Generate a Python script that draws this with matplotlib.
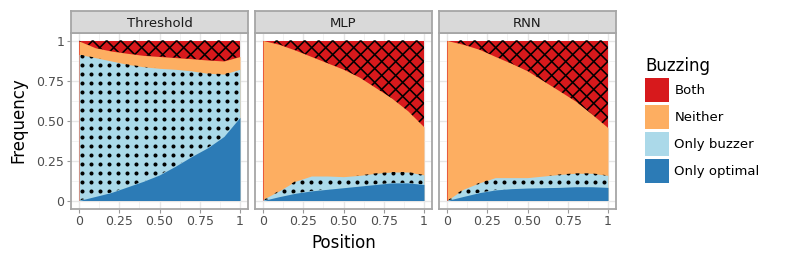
import numpy as np
import matplotlib.pyplot as plt
from matplotlib.patches import Patch
from matplotlib.collections import LineCollection

position = [0.0, 0.1, 0.2, 0.3, 0.4, 0.5, 0.6, 0.7, 0.8, 0.9, 1.0]
models = ['Threshold', 'MLP', 'RNN']
categories = ['Both', 'Neither', 'Only buzzer', 'Only optimal']
colors = {'Both': '#d7191c', 'Neither': '#fdae61',
          'Only buzzer': '#abd9e9', 'Only optimal': '#2c7bb6'}

# frequency of each outcome at each position
threshold_optimal = [0.000, 0.025, 0.050, 0.085, 0.120, 0.160, 0.215, 0.275, 0.330, 0.400, 0.520]
threshold_buzzer = [0.913, 0.868, 0.822, 0.766, 0.716, 0.666, 0.605, 0.535, 0.465, 0.390, 0.300]
threshold_neither = [0.084, 0.062, 0.062, 0.069, 0.071, 0.074, 0.073, 0.076, 0.083, 0.082, 0.080]
threshold_both = [0.003, 0.045, 0.066, 0.080, 0.093, 0.100, 0.107, 0.114, 0.122, 0.128, 0.100]

mlp_optimal = [0.000, 0.024, 0.045, 0.060, 0.070, 0.080, 0.090, 0.100, 0.110, 0.110, 0.100]
mlp_buzzer = [0.007, 0.036, 0.075, 0.093, 0.083, 0.069, 0.067, 0.070, 0.068, 0.068, 0.060]
mlp_neither = [0.993, 0.916, 0.820, 0.747, 0.707, 0.671, 0.613, 0.535, 0.462, 0.382, 0.300]
mlp_both = [0.000, 0.024, 0.060, 0.100, 0.140, 0.180, 0.230, 0.295, 0.360, 0.440, 0.540]

rnn_optimal = [0.000, 0.025, 0.049, 0.066, 0.074, 0.078, 0.080, 0.082, 0.086, 0.086, 0.082]
rnn_buzzer = [0.000, 0.045, 0.061, 0.077, 0.069, 0.065, 0.073, 0.081, 0.084, 0.084, 0.075]
rnn_neither = [1.000, 0.906, 0.835, 0.757, 0.714, 0.667, 0.594, 0.521, 0.450, 0.370, 0.298]
rnn_both = [0.000, 0.024, 0.055, 0.100, 0.143, 0.190, 0.253, 0.316, 0.380, 0.460, 0.545]

data = {
    'Threshold': [threshold_optimal, threshold_buzzer, threshold_neither, threshold_both],
    'MLP': [mlp_optimal, mlp_buzzer, mlp_neither, mlp_both],
    'RNN': [rnn_optimal, rnn_buzzer, rnn_neither, rnn_both],
}
stack_order = ['Only optimal', 'Only buzzer', 'Neither', 'Both']
patterns = {'Only buzzer': 'dots', 'Both': 'cross'}

W, H = 790, 264
fig = plt.figure(figsize=(W / 100, H / 100), dpi=100)

gray_edge = '#a6a6a6'
x = np.array(position)

for i, model in enumerate(models):
    left = 71 + 184 * i
    ax = fig.add_axes([left / W, (H - 208.5) / H, 177 / W, 176 / H])
    ax.set_xlim(-0.05, 1.05)
    ax.set_ylim(-0.05, 1.05)

    layers = np.array(data[model])
    tops = np.cumsum(layers, axis=0)
    bottoms = np.vstack([np.zeros(len(x)), tops[:-1]])

    # draw from the top layer down so there are no seams
    for k in reversed(range(len(stack_order))):
        ax.fill_between(x, 0, tops[k], color=colors[stack_order[k]], lw=0, zorder=2)

    for k, name in enumerate(stack_order):
        if name not in patterns:
            continue
        band = ax.fill_between(x, bottoms[k], tops[k], facecolor='none', lw=0, zorder=3)
        clip = band.get_paths()[0]
        if patterns[name] == 'dots':
            gx, gy = np.meshgrid(np.arange(0.021, 1.0, 0.056), np.arange(0.004, 1.0, 0.05625))
            sc = ax.scatter(gx.ravel(), gy.ravel(), s=8.5, color='black', lw=0, zorder=4)
            sc.set_clip_path(clip, ax.transData)
        else:
            segs = []
            for c in np.arange(-1.0, 1.0, 0.087):
                segs.append([(0, c), (1, 1 + c)])
            for c in np.arange(0.04, 2.0, 0.087):
                segs.append([(0, c), (1, c - 1)])
            lc = LineCollection(segs, colors='black', linewidths=1.15, zorder=4)
            ax.add_collection(lc)
            lc.set_clip_path(clip, ax.transData)

    ticks = [0, 0.25, 0.5, 0.75, 1]
    ticklabels = ['0', '0.25', '0.50', '0.75', '1']
    ax.set_xticks(ticks)
    ax.set_xticklabels(ticklabels)
    ax.set_xticks(np.arange(0.125, 1.0, 0.25), minor=True)
    ax.set_yticks(ticks)
    ax.set_yticks(np.arange(0.125, 1.0, 0.25), minor=True)
    if i == 0:
        ax.set_yticklabels(ticklabels)
        ax.tick_params(axis='y', which='major', length=3, width=0.8, color='#9a9a9a',
                       labelsize=9, labelcolor='#4d4d4d', pad=2)
    else:
        ax.tick_params(axis='y', which='major', length=0, labelleft=False)
    ax.tick_params(axis='x', which='major', length=3, width=0.8, color='#9a9a9a',
                   labelsize=9, labelcolor='#4d4d4d', pad=2)
    ax.tick_params(which='minor', length=0)
    ax.grid(which='major', color='#e6e6e6', lw=1.0, zorder=0)
    ax.grid(which='minor', color='#f0f0f0', lw=0.6, zorder=0)
    ax.set_axisbelow(True)
    for sp in ax.spines.values():
        sp.set_color(gray_edge)
        sp.set_linewidth(1.3)
        sp.set_zorder(5)

    strip = fig.add_axes([left / W, (H - 32.5) / H, 177 / W, 21 / H])
    strip.set_facecolor('#d9d9d9')
    strip.set_xticks([])
    strip.set_yticks([])
    for sp in strip.spines.values():
        sp.set_color(gray_edge)
        sp.set_linewidth(1.3)
    strip.text(0.5, 0.45, model, ha='center', va='center', fontsize=9.5,
               color='#1a1a1a', transform=strip.transAxes)

fig.text(343.5 / W, 1 - 243 / H, 'Position', ha='center', va='center', fontsize=12)
fig.text(18 / W, 1 - 120.5 / H, 'Frequency', ha='center', va='center',
         rotation=90, fontsize=12)

handles = [Patch(facecolor=colors[c], edgecolor='none') for c in categories]
fig.legend(handles, categories, loc='upper left', bbox_to_anchor=(645 / W, 1 - 57 / H),
           frameon=False, title='Buzzing', title_fontsize=12, fontsize=9.5,
           handlelength=1.82, handleheight=2.42, labelspacing=0.23,
           handletextpad=0.4, borderpad=0, borderaxespad=0, alignment='left')

fig.savefig('out.png', dpi=100)
